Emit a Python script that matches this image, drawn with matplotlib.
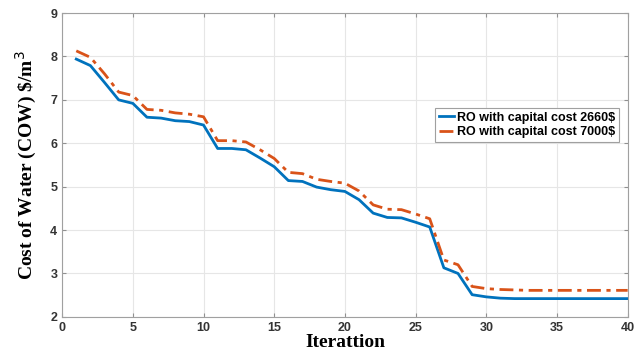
import numpy as np
import matplotlib
matplotlib.use("Agg")
import matplotlib.pyplot as plt

iterations = list(range(1, 41))
cow_2660 = [7.94, 7.79, 7.40, 7.00, 6.92, 6.60, 6.58, 6.52, 6.50, 6.42,
            5.88, 5.88, 5.85, 5.66, 5.46, 5.14, 5.12, 4.99, 4.93, 4.89,
            4.70, 4.39, 4.29, 4.28, 4.18, 4.07, 3.13, 3.00, 2.51, 2.46,
            2.43, 2.42, 2.42, 2.42, 2.42, 2.42, 2.42, 2.42, 2.42, 2.42]
cow_7000 = [8.13, 7.98, 7.60, 7.18, 7.10, 6.78, 6.76, 6.70, 6.67, 6.61,
            6.06, 6.06, 6.03, 5.85, 5.65, 5.33, 5.30, 5.17, 5.12, 5.08,
            4.90, 4.58, 4.48, 4.47, 4.37, 4.26, 3.31, 3.20, 2.70, 2.65,
            2.63, 2.62, 2.61, 2.61, 2.61, 2.61, 2.61, 2.61, 2.61, 2.61]
labels = ["RO with capital cost 2660$", "RO with capital cost 7000$"]

fig = plt.figure(figsize=(6.34, 3.54), dpi=100)
ax = fig.add_axes([0.098, 0.105, 0.892, 0.858])

ax.plot(iterations, cow_2660, color="#0072BD", lw=2, label=labels[0])
ax.plot(iterations, cow_7000, color="#D95319", lw=2, ls=(0, (5, 2, 1.5, 2)),
        label=labels[1])

ax.set_xlim(0, 40)
ax.set_ylim(2, 9)
ax.set_xticks(range(0, 41, 5))
ax.set_yticks(range(2, 10))
ax.grid(True, color="#e6e6e6", lw=0.8)
ax.tick_params(direction="in", top=True, right=True, length=3,
               colors="#909090", labelcolor="#333333", labelsize=9)
for lab in ax.get_xticklabels() + ax.get_yticklabels():
    lab.set_fontweight("bold")
    lab.set_family("Liberation Sans")
for sp in ax.spines.values():
    sp.set_color("#a0a0a0")

ax.set_xlabel("Iterattion", family="Liberation Serif", fontweight="bold",
              fontsize=14, labelpad=0)
ax.set_ylabel("Cost of Water (COW) \\$/m$^3$", family="Liberation Serif",
              fontweight="bold", fontsize=14, labelpad=8)

leg = ax.legend(loc="upper right", bbox_to_anchor=(0.995, 0.708),
                prop={"family": "Liberation Sans", "weight": "bold", "size": 9},
                handlelength=1.2, handletextpad=0.2, borderpad=0.3,
                labelspacing=0.2, fancybox=False, framealpha=1,
                edgecolor="#a0a0a0")
leg.get_frame().set_linewidth(0.8)

fig.savefig("out.png", dpi=100)
